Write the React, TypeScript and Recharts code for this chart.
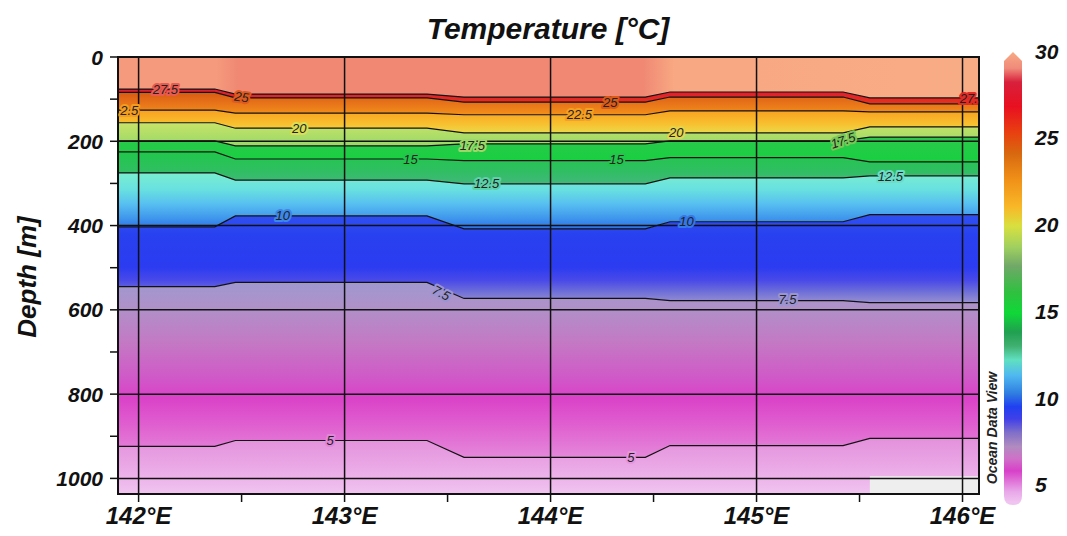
import {
  ComposedChart,
  Area,
  Line,
  XAxis,
  YAxis,
  ReferenceLine,
  ReferenceArea,
  ReferenceDot,
} from "recharts";

// station longitudes (pairs around each step between stations)
const longitudes = [141.9, 142.37, 142.47, 143.4, 143.58, 144.46, 144.58, 145.42, 145.55, 146.08];

// isotherm depths [m] at each longitude
const iso275 = [76, 76, 88, 88, 95, 95, 83, 83, 97, 97];
const iso25 = [84, 84, 97, 97, 107, 107, 95, 95, 111, 111];
const iso225 = [126, 126, 133, 133, 137, 137, 128, 128, 130, 130];
const iso20 = [156, 156, 169, 169, 180, 180, 180, 180, 166, 166];
const iso175 = [199, 199, 211, 211, 206, 206, 199, 199, 190, 190];
const iso15 = [225, 225, 242, 242, 246, 246, 239, 239, 249, 249];
const iso125 = [275, 275, 292, 292, 301, 301, 287, 287, 282, 282];
const iso10 = [403, 403, 377, 377, 408, 408, 391, 391, 374, 374];
const iso75 = [545, 545, 535, 535, 573, 573, 578, 578, 583, 583];
const iso5 = [924, 924, 910, 910, 950, 950, 922, 922, 905, 905];

const xTicks = [142, 142.5, 143, 143.5, 144, 144.5, 145, 145.5, 146];
const yTicks = [0, 100, 200, 300, 400, 500, 600, 700, 800, 900, 1000];
const colorbarTicks = [30, 25, 20, 15, 10, 5];

// contour labels: [lon, depth, text, angle, background behind the text]
const contourLabels: [number, number, string, number, string][] = [
  [142.13, 76, "27.5", 0, "#ea5a50"],
  [142.5, 95, "25", 8, "#e05a1e"],
  [141.955, 126, "2.5", 0, "#f49c1e"],
  [142.78, 169, "20", 0, "#dade52"],
  [143.32, 242, "15", 0, "#22c64c"],
  [143.62, 209, "17.5", 0, "#9cd868"],
  [143.69, 301, "12.5", 0, "#5cd2aa"],
  [144.29, 107, "25", 0, "#dc5a16"],
  [144.14, 137, "22.5", 0, "#f6a020"],
  [144.61, 180, "20", 0, "#e6d44a"],
  [144.32, 244, "15", 0, "#22c64c"],
  [142.7, 377, "10", 0, "#3c88ea"],
  [144.66, 391, "10", 0, "#3478ea"],
  [143.47, 560, "7.5", 28, "#9a94d2"],
  [145.15, 576, "7.5", 0, "#9a94d2"],
  [145.42, 198, "17.5", -18, "#78c858"],
  [145.65, 283, "12.5", 0, "#6adec8"],
  [146.03, 98, "27.", 0, "#e42a24"],
  [142.93, 910, "5", 0, "#e286da"],
  [144.39, 950, "5", 0, "#e696de"],
];

const MAX_DEPTH = 1037;
const isotherms = [iso275, iso25, iso225, iso20, iso175, iso15, iso125, iso10, iso75, iso5];

const data = longitudes.map((lon, i) => {
  const row: Record<string, any> = { lon };
  const bounds = [0, ...isotherms.map((d) => d[i]), MAX_DEPTH];
  for (let b = 0; b < bounds.length - 1; b++) row[`b${b}`] = [bounds[b], bounds[b + 1]];
  isotherms.forEach((d, k) => (row[`t${k}`] = d[i]));
  return row;
});

// vertical colour ramps for each band, top to bottom
const bandStops: [number, string][][] = [
  [],
  [[0, "#dc1a34"], [1, "#e8301a"]],
  [[0, "#d85a12"], [0.5, "#e8741a"], [1, "#f29018"]],
  [[0, "#f8a020"], [0.6, "#f8c030"], [1, "#ecd848"]],
  [[0, "#c8e468"], [1, "#98d868"]],
  [[0, "#2cc84c"], [1, "#18d040"]],
  [[0, "#20c84a"], [0.6, "#30be62"], [1, "#40b87a"]],
  [[0, "#7aeed0"], [0.3, "#68e0e0"], [0.55, "#58c0f0"], [0.8, "#4098ec"], [1, "#2c70e8"]],
  [[0, "#3050f0"], [0.25, "#2840f0"], [0.6, "#2c3cf0"], [0.75, "#4a4ae8"], [0.88, "#7070d8"], [1, "#9890d0"]],
  [[0, "#a098d0"], [0.15, "#b090c8"], [0.35, "#c478c4"], [0.55, "#d058c8"], [0.66, "#da42c8"], [0.82, "#e060d0"], [1, "#e488da"]],
  [[0, "#e490dc"], [0.5, "#eaa8e6"], [1, "#f0c4f0"]],
];

const surfaceStops: [number, string][] = [
  [0, "#f59a7c"], [0.115, "#f59a7c"], [0.139, "#f08874"],
  [0.61, "#f08874"], [0.646, "#f8a882"], [1, "#f8ac86"],
];

const colorbarStops: [number, string][] = [
  [30, "#f7ab84"], [29, "#f08a7a"], [28.2, "#d8203c"], [26.8, "#e81020"], [25.3, "#e84010"],
  [24.1, "#d86810"], [22.6, "#f09018"], [21, "#f8b828"], [19.9, "#d8e040"], [18.7, "#a0d060"],
  [17.6, "#70a868"], [16.1, "#30c040"], [14.9, "#10d838"], [13.8, "#20a050"], [13, "#40b070"],
  [12.2, "#60e0c0"], [11.3, "#50b8f0"], [10.3, "#3080e0"], [9.5, "#2040f0"], [8.8, "#4040e8"],
  [8, "#8070c8"], [7.2, "#b08cc0"], [6.5, "#d070c8"], [5.8, "#d840c8"], [4.6, "#e8a8e8"], [4, "#f0c4f0"],
];

const FONT = "'Liberation Sans', Arial, sans-serif";

const XTick = (props: any) => {
  const { x, y, payload } = props;
  if (!Number.isInteger(payload.value)) return <g />;
  return (
    <text x={x} y={y + 20} textAnchor="middle" fontSize={24} fontWeight="bold" fontStyle="italic" fill="#111" fontFamily={FONT}>
      {payload.value}°E
    </text>
  );
};

const YTick = (props: any) => {
  const { x, y, payload } = props;
  if (payload.value % 200 !== 0) return <g />;
  return (
    <text x={x - 2} y={y} dy="0.36em" textAnchor="end" fontSize={21} fontWeight="bold" fontStyle="italic" fill="#111" fontFamily={FONT}>
      {payload.value}
    </text>
  );
};

// colour bar geometry
const CB_LEFT = 1004;
const CB_RIGHT = 1022;
const CB_TOP = 52;
const CB_BOTTOM = 505;
const cbY = (v: number) => 51 + (30 - v) * 17.35;

export default function App() {
  return (
    <div style={{ position: "absolute", left: 0, top: 0, width: 1067, height: 536, background: "#fff", fontFamily: FONT }}>
      <ComposedChart width={1067} height={536} data={data} margin={{ top: 57, right: 88, bottom: 12, left: 58 }}>
        <defs>
          <linearGradient id="surf" x1="0" y1="0" x2="1" y2="0">
            {surfaceStops.map(([o, c], i) => (
              <stop key={i} offset={o} stopColor={c} />
            ))}
          </linearGradient>
          {bandStops.map((stops, b) =>
            b === 0 ? null : (
              <linearGradient key={b} id={`band${b}`} x1="0" y1="0" x2="0" y2="1">
                {stops.map(([o, c], i) => (
                  <stop key={i} offset={o} stopColor={c} />
                ))}
              </linearGradient>
            )
          )}
        </defs>
        <XAxis
          type="number"
          dataKey="lon"
          domain={[141.9, 146.08]}
          ticks={xTicks}
          tick={<XTick />}
          tickSize={8}
          tickMargin={2}
          height={30}
          interval={0}
          axisLine={{ stroke: "#111", strokeWidth: 2 }}
          tickLine={{ stroke: "#111", strokeWidth: 1.5 }}
        />
        <YAxis
          type="number"
          domain={[0, MAX_DEPTH]}
          reversed
          ticks={yTicks}
          tick={<YTick />}
          tickSize={8}
          tickMargin={5}
          width={60}
          interval={0}
          allowDataOverflow
          axisLine={{ stroke: "#111", strokeWidth: 2 }}
          tickLine={{ stroke: "#111", strokeWidth: 1.5 }}
        />
        {bandStops.map((_, b) => (
          <Area
            key={`b${b}`}
            type="linear"
            dataKey={`b${b}`}
            stroke="none"
            fill={b === 0 ? "url(#surf)" : `url(#band${b})`}
            fillOpacity={1}
            isAnimationActive={false}
            activeDot={false}
          />
        ))}
        <ReferenceArea x1={145.55} x2={146.08} y1={995} y2={MAX_DEPTH} fill="#eeeeee" fillOpacity={1} stroke="none" />
        {isotherms.map((_, k) => (
          <Line
            key={`t${k}`}
            type="linear"
            dataKey={`t${k}`}
            stroke="#111"
            strokeWidth={1.2}
            dot={false}
            activeDot={false}
            isAnimationActive={false}
          />
        ))}
        {[142, 143, 144, 145, 146].map((x) => (
          <ReferenceLine key={`vx${x}`} x={x} stroke="#111" strokeWidth={1.5} />
        ))}
        {[200, 400, 600, 800, 1000].map((y) => (
          <ReferenceLine key={`hy${y}`} y={y} stroke="#111" strokeWidth={1.5} />
        ))}
        {contourLabels.map(([lon, depth, text, angle, bg], i) => (
          <ReferenceDot
            key={`cl${i}`}
            x={lon}
            y={depth}
            r={0}
            shape={(p: any) => (
              <text
                x={p.cx}
                y={p.cy}
                dy="0.35em"
                textAnchor="middle"
                fontSize={13}
                fontStyle="italic"
                fill="#222"
                stroke={bg}
                strokeWidth={4}
                paintOrder="stroke"
                strokeLinejoin="round"
                fontFamily={FONT}
                transform={angle ? `rotate(${angle} ${p.cx} ${p.cy})` : undefined}
              >
                {text}
              </text>
            )}
          />
        ))}
        <ReferenceArea x1={141.9} x2={146.08} y1={0} y2={MAX_DEPTH} fill="none" stroke="#111" strokeWidth={2} />
      </ComposedChart>

      <svg width={1067} height={536} style={{ position: "absolute", left: 0, top: 0, pointerEvents: "none" }}>
        <defs>
          <linearGradient id="cbar" x1="0" y1="0" x2="0" y2="1">
            {colorbarStops.map(([v, c], i) => (
              <stop key={i} offset={(cbY(v) - CB_TOP) / (CB_BOTTOM - CB_TOP)} stopColor={c} />
            ))}
          </linearGradient>
        </defs>
        <text x={548} y={39} textAnchor="middle" fontSize={30} fontWeight="bold" fontStyle="italic" fill="#111" fontFamily={FONT}>
          Temperature [°C]
        </text>
        <text
          transform="translate(36 277) rotate(-90)"
          textAnchor="middle"
          fontSize={26}
          fontWeight="bold"
          fontStyle="italic"
          fill="#111"
          fontFamily={FONT}
        >
          Depth [m]
        </text>
        <path
          d={`M ${CB_LEFT} ${CB_TOP + 9} L ${(CB_LEFT + CB_RIGHT) / 2} ${CB_TOP} L ${CB_RIGHT} ${CB_TOP + 9} L ${CB_RIGHT} ${CB_BOTTOM - 9} Q ${CB_RIGHT} ${CB_BOTTOM} ${(CB_LEFT + CB_RIGHT) / 2} ${CB_BOTTOM} Q ${CB_LEFT} ${CB_BOTTOM} ${CB_LEFT} ${CB_BOTTOM - 9} Z`}
          fill="url(#cbar)"
        />
        {colorbarTicks.map((v) => (
          <text key={v} x={1035} y={cbY(v)} dy="0.36em" fontSize={21} fontWeight="bold" fontStyle="italic" fill="#111" fontFamily={FONT}>
            {v}
          </text>
        ))}
        <text
          transform="translate(997 428) rotate(-90)"
          textAnchor="middle"
          fontSize={14}
          fontStyle="italic"
          fontWeight="bold"
          fill="#222"
          fontFamily={FONT}
        >
          Ocean Data View
        </text>
      </svg>
    </div>
  );
}
